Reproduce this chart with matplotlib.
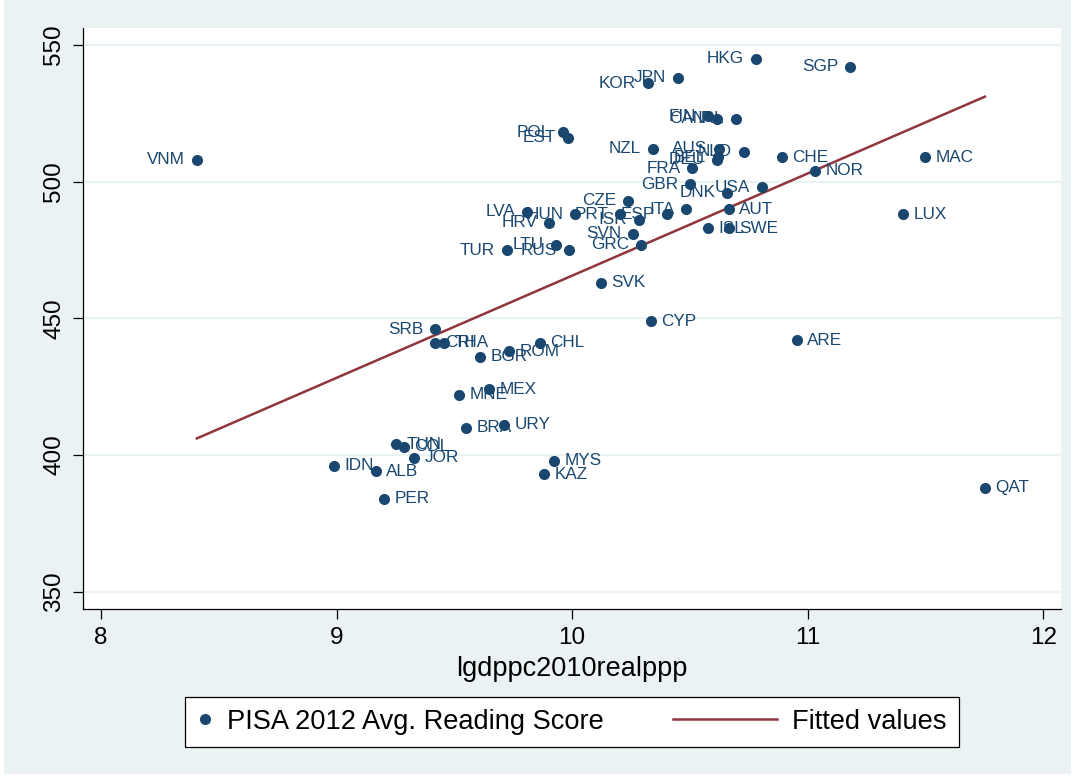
import numpy as np
import matplotlib
matplotlib.use("Agg")
import matplotlib.pyplot as plt
from matplotlib.lines import Line2D
from matplotlib.patches import Rectangle
from matplotlib.legend_handler import HandlerLine2D

plt.rcParams['font.family'] = ['Liberation Sans', 'DejaVu Sans']

# country codes, log GDP per capita (2010, real PPP), PISA 2012 reading score
codes = ["HKG", "SGP", "JPN", "KOR", "FIN", "CAN", "IRL", "POL", "EST", "NZL",
         "AUS", "NLD", "BEL", "DEU", "CHE", "FRA", "NOR", "MAC", "VNM", "GBR",
         "DNK", "USA", "LUX", "CZE", "AUT", "ITA", "ESP", "PRT", "ISR", "HUN",
         "LVA", "HRV", "SVN", "GRC", "LTU", "RUS", "TUR", "ISL", "SWE", "SVK",
         "CYP", "ARE", "SRB", "CRI", "THA", "CHL", "ROM", "BGR", "MEX", "MNE",
         "URY", "BRA", "TUN", "COL", "JOR", "IDN", "ALB", "PER", "MYS", "KAZ",
         "QAT"]
lgdp = [10.780, 11.179, 10.449, 10.322, 10.576, 10.614, 10.695, 9.961, 9.982, 10.343,
        10.623, 10.729, 10.618, 10.614, 10.890, 10.509, 11.031, 11.497, 8.407, 10.500,
        10.657, 10.806, 11.404, 10.237, 10.665, 10.483, 10.402, 10.203, 10.284, 10.012,
        9.808, 9.902, 10.258, 10.292, 9.931, 9.986, 9.723, 10.576, 10.665, 10.122,
        10.334, 10.954, 9.418, 9.418, 9.456, 9.863, 9.732, 9.609, 9.647, 9.520,
        9.711, 9.549, 9.252, 9.286, 9.329, 8.989, 9.167, 9.201, 9.923, 9.880,
        11.752]
reading = [545, 542, 538, 536, 524, 523, 523, 518, 516, 512,
           512, 511, 509, 508, 509, 505, 504, 509, 508, 499,
           496, 498, 488, 493, 490, 490, 488, 488, 486, 488,
           489, 485, 481, 477, 477, 475, 475, 483, 483, 463,
           449, 442, 446, 441, 441, 441, 438, 436, 424, 422,
           411, 410, 404, 403, 399, 396, 394, 384, 398, 393,
           388]
# label side: L = left of marker, R = right of marker
side = "LLLLLLLLLL" "LLLLRLRRLL" "LLRLRLLLLL" "LLLLLLLRRR" "RRLRRRRRRR" "RRRRRRRRRR" "R"

navy = "#1a476f"
maroon = "#90353b"
bg = "#eaf2f3"

x = np.array(lgdp)
y = np.array(reading)
b, a = np.polyfit(x, y, 1)
xf = np.array([x.min(), x.max()])
yf = a + b * xf

fig = plt.figure(figsize=(10.75, 7.78), dpi=100)
fig.patch.set_facecolor("white")
fig.add_artist(Rectangle((4 / 1075, 4 / 778), 1 - 8 / 1075, 1 - 4 / 778,
                         transform=fig.transFigure, facecolor=bg, edgecolor="none", zorder=-10))

ax = fig.add_axes([83.3 / 1075, 1 - 608.7 / 778, (1061 - 83.3) / 1075, (608.7 - 28.3) / 778])
ax.set_facecolor("white")

ax.plot(x, y, "o", color=navy, markersize=8, markeredgewidth=0, zorder=3,
        label="PISA 2012 Avg. Reading Score")
ax.plot(xf, yf, "-", color=maroon, linewidth=1.8, zorder=2, label="Fitted values")

for c, xi, yi, s in zip(codes, x, y, side):
    if s == "L":
        ax.annotate(c, (xi, yi), xytext=(-8.5, 0), textcoords="offset points",
                    ha="right", va="center", fontsize=12.3, color=navy, zorder=4)
    else:
        ax.annotate(c, (xi, yi), xytext=(7.5, 0), textcoords="offset points",
                    ha="left", va="center", fontsize=12.3, color=navy, zorder=4)

ax.set_xlim(7.925, 12.075)
ax.set_ylim(343.8, 556.1)
ax.set_xticks([8, 9, 10, 11, 12])
ax.set_yticks([350, 400, 450, 500, 550])
ax.yaxis.grid(True, color=bg, linewidth=1.6)
ax.set_axisbelow(True)
for sp in ["top", "right"]:
    ax.spines[sp].set_visible(False)
for sp in ["left", "bottom"]:
    ax.spines[sp].set_linewidth(0.9)
ax.tick_params(direction="out", length=7, width=0.9, labelsize=17.5, pad=6)
plt.setp(ax.get_yticklabels(), rotation=90, va="center")
ax.set_xlabel("lgdppc2010realppp", fontsize=19.5, labelpad=5)


class LongLine(HandlerLine2D):
    def create_artists(self, legend, orig_handle, xdescent, ydescent, width, height, fontsize, trans):
        yc = height / 2 - ydescent
        ln = Line2D([width - xdescent - 75, width - xdescent], [yc, yc])
        self.update_prop(ln, orig_handle, legend)
        ln.set_transform(trans)
        return [ln]


handles, labels = ax.get_legend_handles_labels()
leg = fig.legend(handles, labels, loc="center", ncol=2,
                 bbox_to_anchor=(572 / 1075, 1 - 722 / 778), bbox_transform=fig.transFigure,
                 fontsize=19.6, frameon=True, fancybox=False, edgecolor="black", framealpha=1,
                 borderpad=0.45, handlelength=0.55, handletextpad=0.55, columnspacing=5.8,
                 numpoints=1, handler_map={handles[1]: LongLine()})
leg.get_frame().set_linewidth(0.9)

fig.savefig("out.png", dpi=100, facecolor=fig.get_facecolor())
